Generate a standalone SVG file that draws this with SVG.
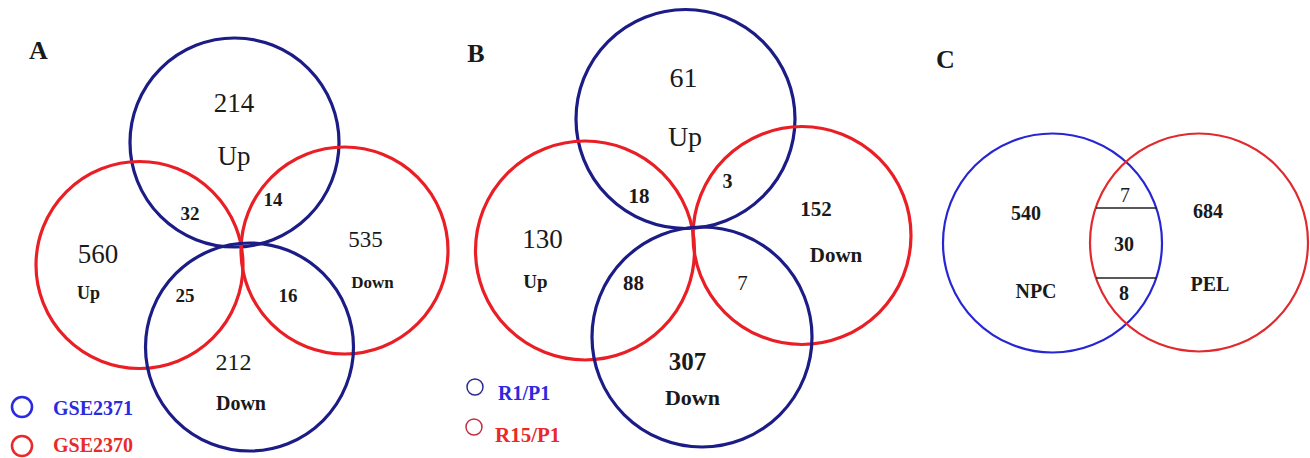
<svg xmlns="http://www.w3.org/2000/svg" width="1310" height="458" viewBox="0 0 1310 458">
<style>
.bg{fill:#ffffff}
.nb{fill:none;stroke:#1c1c86;stroke-width:3.2}
.nr{fill:none;stroke:#ea1f26;stroke-width:3.2}
.cb{fill:none;stroke:#2626d4;stroke-width:2.2}
.cr{fill:none;stroke:#e02a2e;stroke-width:2.2}
.lb{fill:none;stroke:#2a2ae0;stroke-width:2.6}
.lr{fill:none;stroke:#e82a2a;stroke-width:2.6}
.sb{fill:none;stroke:#2a2a90;stroke-width:1.5}
.sr{fill:none;stroke:#c03040;stroke-width:1.5}
.chord{stroke:#222;stroke-width:1.6}
text{font-family:"Liberation Serif","Times New Roman",serif;fill:#1a1a1a;text-anchor:middle}
.b{font-weight:bold}
.lt{text-anchor:start;font-weight:bold}
.tb{fill:#2a2ae0}
.tr{fill:#e82a2a}
</style>
<rect class="bg" x="0" y="0" width="1310" height="458"/>

<g id="panelA">
  <text class="b" x="38.5" y="59" font-size="26">A</text>
  <g id="A-up-blue"><circle class="nb" cx="234.5" cy="142.5" r="104.5"/></g>
  <g id="A-up-red"><circle class="nr" cx="139.5" cy="265" r="103.5"/></g>
  <g id="A-down-red"><circle class="nr" cx="344.5" cy="250.5" r="103.5"/></g>
  <g id="A-down-blue"><circle class="nb" cx="249.5" cy="347" r="104"/></g>
  <text x="234" y="112" font-size="27">214</text>
  <text x="234" y="165" font-size="27">Up</text>
  <text class="b" x="190" y="220" font-size="19">32</text>
  <text class="b" x="273" y="206" font-size="19">14</text>
  <text x="98" y="263" font-size="27">560</text>
  <text class="b" x="88.5" y="299" font-size="18">Up</text>
  <text class="b" x="185" y="302" font-size="19">25</text>
  <text class="b" x="288" y="302" font-size="19">16</text>
  <text x="365.5" y="247" font-size="23">535</text>
  <text class="b" x="372.5" y="288" font-size="17">Down</text>
  <text x="233.5" y="370" font-size="24">212</text>
  <text class="b" x="241" y="410" font-size="20">Down</text>
  <g id="A-legend">
    <circle class="lb" cx="22" cy="407" r="10"/>
    <text class="lt tb" x="53" y="415" font-size="20">GSE2371</text>
    <circle class="lr" cx="22" cy="446" r="10"/>
    <text class="lt tr" x="53" y="452" font-size="20">GSE2370</text>
  </g>
</g>

<g id="panelB">
  <text class="b" x="476" y="62" font-size="26">B</text>
  <g id="B-up-blue"><circle class="nb" cx="685.5" cy="119" r="109.5"/></g>
  <g id="B-up-red"><circle class="nr" cx="585" cy="250.5" r="109.5"/></g>
  <g id="B-down-red"><circle class="nr" cx="802" cy="235.5" r="109"/></g>
  <g id="B-down-blue"><circle class="nb" cx="702" cy="337" r="110"/></g>
  <text x="683.5" y="87" font-size="28">61</text>
  <text x="685" y="146" font-size="28">Up</text>
  <text class="b" x="639" y="203" font-size="21">18</text>
  <text class="b" x="727.5" y="188" font-size="20">3</text>
  <text x="542.5" y="248" font-size="27">130</text>
  <text class="b" x="535.5" y="288" font-size="19">Up</text>
  <text class="b" x="633.5" y="290" font-size="21">88</text>
  <text x="742.5" y="290" font-size="21">7</text>
  <text class="b" x="816" y="216" font-size="21">152</text>
  <text class="b" x="836" y="262" font-size="21">Down</text>
  <text class="b" x="687.5" y="370" font-size="25">307</text>
  <text class="b" x="692.5" y="405" font-size="22">Down</text>
  <g id="B-legend">
    <circle class="sb" cx="475" cy="387" r="8"/>
    <text class="lt tb" x="498" y="400" font-size="20">R1/P1</text>
    <circle class="sr" cx="474" cy="427" r="8"/>
    <text class="lt tr" x="495" y="442" font-size="21">R15/P1</text>
  </g>
</g>

<g id="panelC">
  <text class="b" x="945.5" y="68" font-size="26">C</text>
  <g id="C-NPC"><circle class="cb" cx="1052.5" cy="243" r="109.5"/></g>
  <g id="C-PEL"><circle class="cr" cx="1199" cy="242.5" r="109"/></g>
  <g id="C-chords">
    <line class="chord" x1="1096" y1="208" x2="1157" y2="208"/>
    <line class="chord" x1="1096" y1="278" x2="1157" y2="278"/>
  </g>
  <text class="b" x="1026" y="220" font-size="20">540</text>
  <text x="1125" y="202" font-size="20">7</text>
  <text class="b" x="1208" y="218" font-size="20">684</text>
  <text class="b" x="1124" y="251" font-size="20">30</text>
  <text class="b" x="1036" y="298" font-size="20">NPC</text>
  <text class="b" x="1124" y="300" font-size="20">8</text>
  <text class="b" x="1210" y="291" font-size="20">PEL</text>
</g>
</svg>
